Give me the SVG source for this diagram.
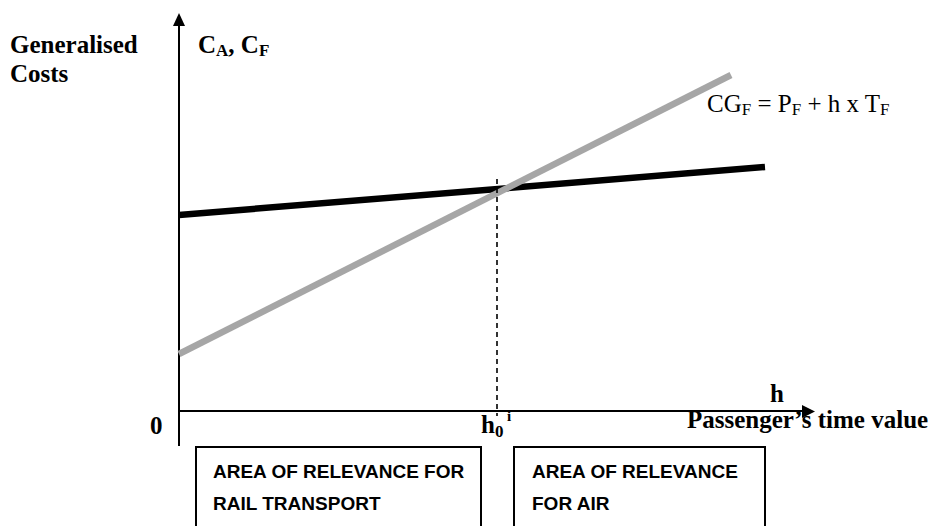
<svg xmlns="http://www.w3.org/2000/svg" width="936" height="526" viewBox="0 0 936 526">
<style>
.lbl{font-family:"Liberation Serif","Times New Roman",serif;font-weight:bold;font-size:25px;fill:#000}
.eq{font-family:"Liberation Serif","Times New Roman",serif;font-size:25px;fill:#000}
.box{fill:#fff;stroke:#000;stroke-width:2}
.boxt{font-family:"Liberation Sans",Arial,sans-serif;font-weight:bold;font-size:19px;fill:#000}
.axis{stroke:#000;stroke-width:2;fill:none}
.sub{font-size:17px}
</style>
<rect width="936" height="526" fill="#fff"/>
<g id="connectors">
  <line class="axis" x1="179" y1="446" x2="179" y2="24"/>
  <polygon points="179,13 173,26 185,26" fill="#000"/>
  <line class="axis" x1="179" y1="411" x2="804" y2="411"/>
  <polygon points="815,411.5 802,405 802,418" fill="#000"/>
  <line x1="179" y1="215" x2="765" y2="167" stroke="#000" stroke-width="6.5"/>
  <line x1="179" y1="354" x2="731" y2="75" stroke="#a6a6a6" stroke-width="6.5"/>
  <line x1="497" y1="179" x2="497" y2="416" stroke="#000" stroke-width="1.6" stroke-dasharray="5,4"/>
</g>
<g id="ylabel">
  <text class="lbl" x="10" y="53">Generalised</text>
  <text class="lbl" x="10" y="82">Costs</text>
</g>
<g id="yaxis-label">
  <text class="lbl" x="198" y="53">C<tspan class="sub" dy="3">A</tspan><tspan dy="-3">, C</tspan><tspan class="sub" dy="3">F</tspan></text>
</g>
<g id="equation">
  <text class="eq" x="707" y="112">CG<tspan class="sub" dy="3">F</tspan><tspan dy="-3"> = P</tspan><tspan class="sub" dy="3">F</tspan><tspan dy="-3"> + h x T</tspan><tspan class="sub" dy="3">F</tspan></text>
</g>
<g id="xaxis-labels">
  <text class="lbl" x="481" y="433">h<tspan class="sub" dy="4">0</tspan></text>
  <text class="lbl" x="770" y="402">h</text>
  <text class="lbl" x="687" y="428">Passenger’s time value</text>
  <text class="lbl" x="150" y="434">0</text>
  <text class="lbl" x="507" y="421" style="font-size:15px">i</text>
</g>
<g id="box-rail">
  <rect class="box" x="196" y="447" width="285" height="90"/>
  <text class="boxt" x="213" y="478">AREA OF RELEVANCE FOR</text>
  <text class="boxt" x="213" y="510">RAIL TRANSPORT</text>
</g>
<g id="box-air">
  <rect class="box" x="514" y="447" width="251" height="90"/>
  <text class="boxt" x="532" y="478">AREA OF RELEVANCE</text>
  <text class="boxt" x="532" y="510">FOR AIR</text>
</g>
</svg>
